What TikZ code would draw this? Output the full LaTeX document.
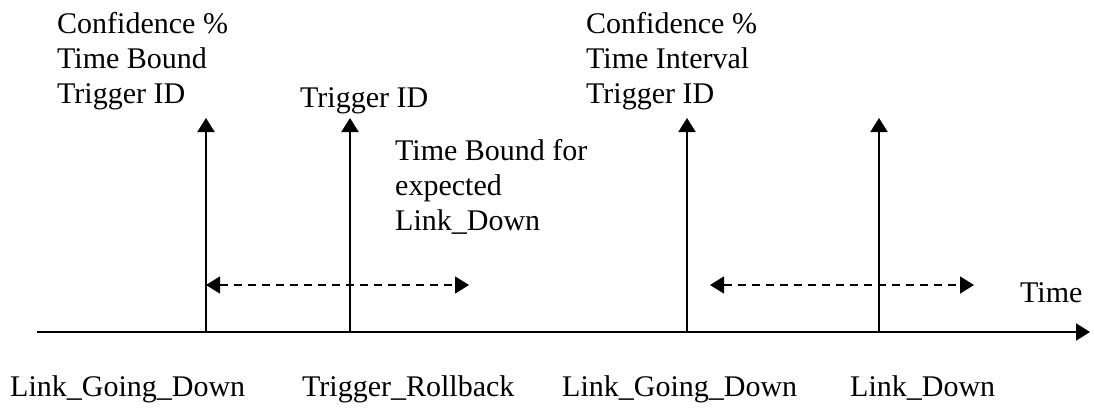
\documentclass[tikz,border=0pt]{standalone}
\usepackage{fontspec}
\setmainfont{Liberation Serif}
\usetikzlibrary{arrows.meta}
\begin{document}
\begin{tikzpicture}[x=1pt,y=-1pt,
  lbl/.style={anchor=base west,inner sep=0pt,font=\fontsize{30}{35}\selectfont},
  solidarrow/.style={line width=2pt,-{Triangle[length=14pt,width=17pt]}},
  dasharrow/.style={line width=1.6pt,dash pattern=on 8pt off 6pt,{Triangle[length=14pt,width=17pt]}-{Triangle[length=14pt,width=17pt]}}]
\useasboundingbox (0,0) rectangle (1094,413);
% axis
\coordinate (ax0) at (37,332);
\coordinate (ax1) at (1090,332);
\draw[solidarrow] (ax0) -- (ax1);
% event points
\coordinate (e1) at (206,332);
\coordinate (e2) at (350,332);
\coordinate (e3) at (687,332);
\coordinate (e4) at (879,332);
\coordinate (t1) at (206,118);
\coordinate (t2) at (350,118);
\coordinate (t3) at (687,118);
\coordinate (t4) at (879,118);
\draw[solidarrow] (e1) -- (t1);
\draw[solidarrow] (e2) -- (t2);
\draw[solidarrow] (e3) -- (t3);
\draw[solidarrow] (e4) -- (t4);
% dashed intervals
\coordinate (d1a) at (206,285);
\coordinate (d1b) at (469,285);
\coordinate (d2a) at (710,285);
\coordinate (d2b) at (974,285);
\draw[dasharrow] (d1a) -- (d1b);
\draw[dasharrow] (d2a) -- (d2b);
% top labels
\node[lbl] (a1) at (57,33) {Confidence \%};
\node[lbl] (a2) at (57,68) {Time Bound};
\node[lbl] (a3) at (57,103) {Trigger ID};
\node[lbl] (b1) at (300,107) {Trigger ID};
\node[lbl] (c1) at (395,160) {Time Bound for};
\node[lbl] (c2) at (395,195) {expected};
\node[lbl] (c3) at (395,230) {Link\_Down};
\node[lbl] (f1) at (586,33) {Confidence \%};
\node[lbl] (f2) at (586,68) {Time Interval};
\node[lbl] (f3) at (586,103) {Trigger ID};
\node[lbl] (time) at (1020,302) {Time};
% bottom labels
\node[lbl] (l1) at (10,396) {Link\_Going\_Down};
\node[lbl] (l2) at (302,396) {Trigger\_Rollback};
\node[lbl] (l3) at (562,396) {Link\_Going\_Down};
\node[lbl] (l4) at (850,396) {Link\_Down};
\end{tikzpicture}
\end{document}
